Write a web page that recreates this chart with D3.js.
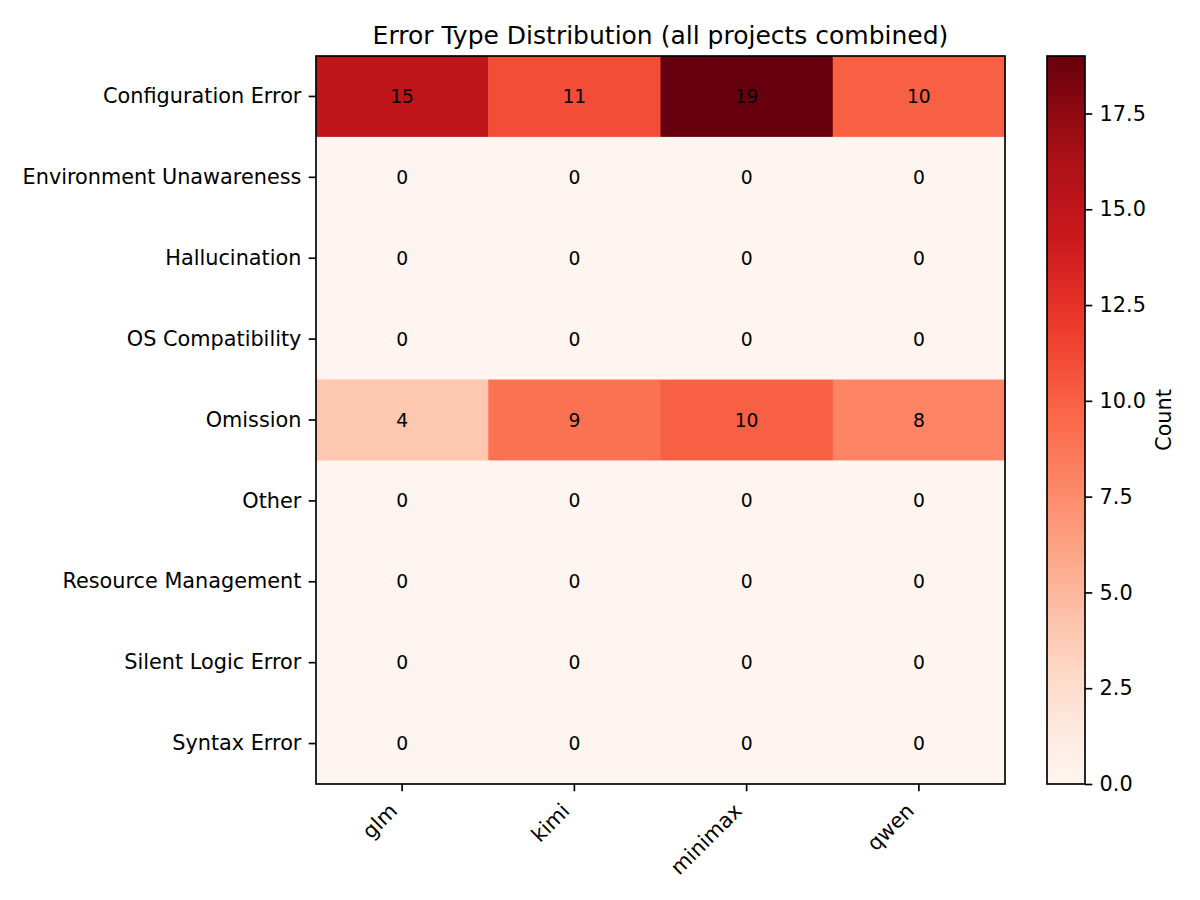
<!DOCTYPE html>
<html>
<head>
<meta charset="utf-8">
<script src="https://cdn.jsdelivr.net/npm/d3@7"></script>
<style>
  body { margin: 0; background: #fff; }
  svg text { font-family: "DejaVu Sans", sans-serif; }
</style>
</head>
<body>
<div id="heatmap"></div>
<script>
// data
var models = ["glm", "kimi", "minimax", "qwen"];
var errorTypes = ["Configuration Error", "Environment Unawareness", "Hallucination",
  "OS Compatibility", "Omission", "Other", "Resource Management",
  "Silent Logic Error", "Syntax Error"];
var counts = [
  [15, 11, 19, 10],
  [0, 0, 0, 0],
  [0, 0, 0, 0],
  [0, 0, 0, 0],
  [4, 9, 10, 8],
  [0, 0, 0, 0],
  [0, 0, 0, 0],
  [0, 0, 0, 0],
  [0, 0, 0, 0]
];
var cbTicks = [0, 2.5, 5, 7.5, 10, 12.5, 15, 17.5];

// matplotlib "Reds" (linear between the colorbrewer stops)
var redsStops = ["#fff5f0","#fee0d2","#fcbba1","#fc9272","#fb6a4a","#ef3b2c","#cb181d","#a50f15","#67000d"];

var W = 1200, H = 900;
var margin = {left: 316, top: 56, right: 1005, bottom: 784};
var width = margin.right - margin.left, height = margin.bottom - margin.top;
var tickFont = "20.8px", tickLen = 7.3, tickPad = 7.3, lw = 1.67;

var svg = d3.select("#heatmap").append("svg")
    .attr("width", W).attr("height", H);

var vmax = d3.max(counts, function(r) { return d3.max(r); });
var t = d3.scaleLinear().domain([0, vmax]).range([0, 1]);
var redsInterp = d3.scaleLinear()
    .domain(d3.range(redsStops.length).map(function(i) { return i / (redsStops.length - 1); }))
    .range(redsStops)
    .interpolate(d3.interpolateRgb);
var color = function(v) { return redsInterp(t(v)); };

var x = d3.scaleBand().domain(models).range([0, width]);
var y = d3.scaleBand().domain(errorTypes).range([0, height]);

var g = svg.append("g").attr("transform", "translate(" + margin.left + "," + margin.top + ")");

// cells
var cells = [];
counts.forEach(function(row, i) {
  row.forEach(function(v, j) {
    cells.push({ type: errorTypes[i], model: models[j], value: v });
  });
});

g.selectAll("rect.cell")
  .data(cells)
  .enter()
  .append("rect")
    .attr("class", "cell")
    .attr("x", function(d) { return x(d.model); })
    .attr("y", function(d) { return y(d.type); })
    .attr("width", x.bandwidth() + 0.5)
    .attr("height", y.bandwidth() + 0.5)
    .attr("fill", function(d) { return color(d.value); });

g.selectAll("text.val")
  .data(cells)
  .enter()
  .append("text")
    .attr("class", "val")
    .attr("x", function(d) { return x(d.model) + x.bandwidth() / 2; })
    .attr("y", function(d) { return y(d.type) + y.bandwidth() / 2; })
    .attr("text-anchor", "middle")
    .attr("dominant-baseline", "central")
    .style("font-size", "18.75px")
    .style("fill", "#000")
    .text(function(d) { return d.value; });

// axes
var xAxis = g.append("g")
  .attr("transform", "translate(0," + height + ")")
  .call(d3.axisBottom(x).tickSize(tickLen).tickPadding(tickPad));
// matplotlib rotation=45, ha="right": top-right of the rotated box under the tick
var fs = 20.8, s45 = Math.SQRT1_2;
xAxis.selectAll("text")
  .style("font-size", tickFont)
  .attr("text-anchor", "end")
  .attr("y", 0)
  .attr("dy", 0)
  .attr("transform", "translate(" + (-s45 * 0.236 * fs) + "," + (tickLen + tickPad + s45 * 0.928 * fs) + ") rotate(-45)");

var yAxis = g.append("g")
  .call(d3.axisLeft(y).tickSize(tickLen).tickPadding(tickPad));
yAxis.selectAll("text").style("font-size", tickFont);

[xAxis, yAxis].forEach(function(a) {
  a.select(".domain").remove();
  a.selectAll("line").attr("stroke", "#000").attr("stroke-width", lw);
  a.selectAll("text").style("fill", "#000");
});

g.append("rect")
  .attr("width", width).attr("height", height)
  .attr("fill", "none").attr("stroke", "#000").attr("stroke-width", lw);

// title
svg.append("text")
  .attr("x", margin.left + width / 2)
  .attr("y", 43.5)
  .attr("text-anchor", "middle")
  .style("font-size", "25px")
  .text("Error Type Distribution (all projects combined)");

// colorbar
var cbX = 1047, cbW = 38;
var defs = svg.append("defs");
var grad = defs.append("linearGradient")
  .attr("id", "redsGrad")
  .attr("x1", "0").attr("y1", "1").attr("x2", "0").attr("y2", "0");
d3.range(0, 1.0001, 0.05).forEach(function(s) {
  grad.append("stop").attr("offset", s).attr("stop-color", redsInterp(s));
});

var cbScale = d3.scaleLinear().domain([0, vmax]).range([margin.bottom, margin.top]);
svg.append("rect")
  .attr("x", cbX).attr("y", margin.top)
  .attr("width", cbW).attr("height", height)
  .attr("fill", "url(#redsGrad)")
  .attr("stroke", "#000").attr("stroke-width", lw);

var cbAxis = svg.append("g")
  .attr("transform", "translate(" + (cbX + cbW) + ",0)")
  .call(d3.axisRight(cbScale).tickValues(cbTicks).tickFormat(d3.format(".1f")).tickSize(tickLen).tickPadding(tickPad));
cbAxis.select(".domain").remove();
cbAxis.selectAll("line").attr("stroke", "#000").attr("stroke-width", lw);
cbAxis.selectAll("text").style("font-size", tickFont).style("fill", "#000");

svg.append("text")
  .attr("transform", "translate(1171," + (margin.top + height / 2) + ") rotate(-90)")
  .attr("text-anchor", "middle")
  .style("font-size", tickFont)
  .text("Count");
</script>
</body>
</html>
